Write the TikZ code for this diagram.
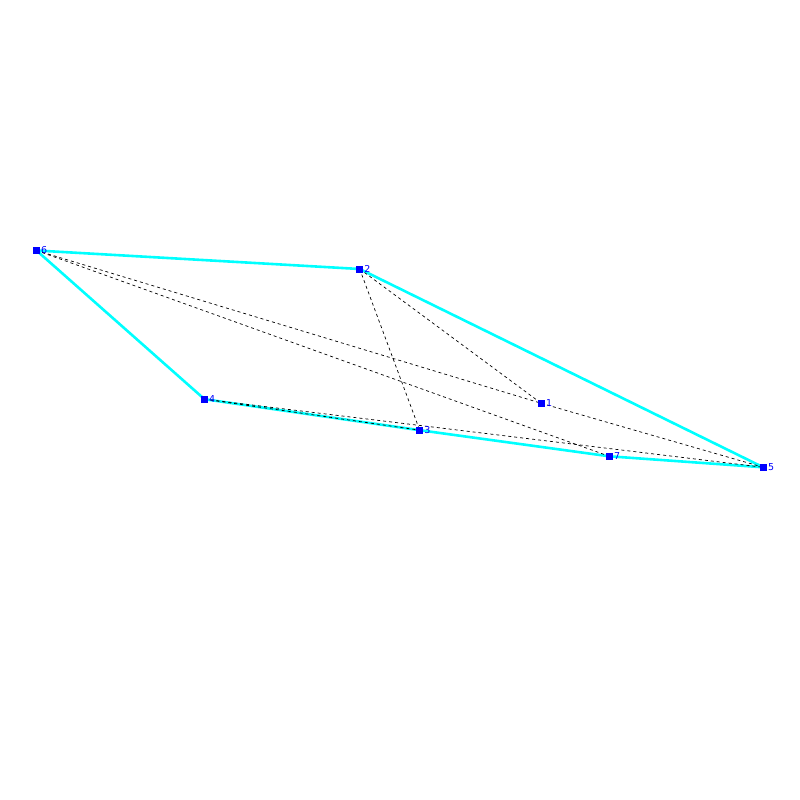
\documentclass[tikz,border=0pt]{standalone}
\usepackage{fontspec}
\setmainfont{DejaVu Sans}
\definecolor{hullcyan}{RGB}{0,255,255}
\definecolor{ptblue}{RGB}{0,0,255}
\begin{document}
\begin{tikzpicture}[x=1pt,y=-1pt,
  pt/.style={fill=ptblue,draw=none,minimum size=7pt,inner sep=0pt},
  lbl/.style={text=ptblue,font=\fontsize{9.5}{10}\selectfont,inner sep=0pt,anchor=west},
  hull/.style={draw=hullcyan,line width=2.6pt,line join=round},
  dsh/.style={draw=black,line width=0.7pt,dash pattern=on 3pt off 3pt}]
\useasboundingbox (0,0) rectangle (800,800);
\coordinate (p1) at (541.3,403.3);
\coordinate (p2) at (359.7,269);
\coordinate (p3) at (419.7,430.2);
\coordinate (p4) at (204.5,399.2);
\coordinate (p5) at (763.3,467.3);
\coordinate (p6) at (36.5,250.5);
\coordinate (p7) at (609.3,456.3);
\draw[hull] (p6) -- (p2) -- (p5) -- (p7) -- (p3) -- (p4) -- cycle;
\draw[dsh] (p6) -- (p1);
\draw[dsh] (p6) -- (p7);
\draw[dsh] (p2) -- (p1);
\draw[dsh] (p2) -- (p3);
\draw[dsh] (p1) -- (p5);
\draw[dsh] (p4) -- (p5);
\draw[dsh] (p4) -- (p3);
\foreach \i in {1,...,7} {
  \node[pt] (s\i) at (p\i) {};
  \node[lbl] (l\i) at ([xshift=4.5pt]p\i) {\i};
}
\end{tikzpicture}
\end{document}
